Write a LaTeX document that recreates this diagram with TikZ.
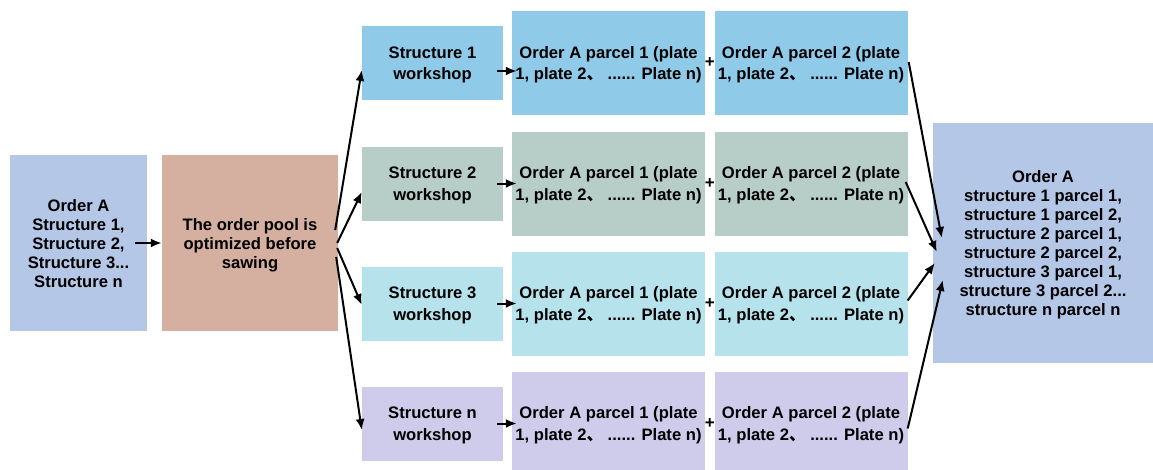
\documentclass[tikz,border=0pt]{standalone}
\usepackage{fontspec}
\setmainfont{Liberation Sans}
\newfontfamily\cjk{Noto Sans CJK SC}
\usetikzlibrary{arrows.meta,calc}

\definecolor{orderblue}{RGB}{180,199,231}
\definecolor{poolrose}{RGB}{213,175,160}
\definecolor{rowa}{RGB}{143,202,232}
\definecolor{rowb}{RGB}{183,205,199}
\definecolor{rowc}{RGB}{182,226,235}
\definecolor{rowd}{RGB}{207,203,235}

\begin{document}
\begin{tikzpicture}[x=1pt,y=-1pt,
  box/.style={rectangle, inner sep=0pt, align=center, draw=none, text depth=-2.5pt},
  tight/.style={font=\fontsize{16.6}{19}\selectfont\bfseries},
  loose/.style={font=\fontsize{16.6}{21.5}\selectfont\bfseries},
  wsbox/.style={box, loose, minimum width=141pt, minimum height=74pt},
  parcelbox/.style={box, loose, minimum width=193pt, minimum height=104pt},
  plus/.style={inner sep=0pt, font=\fontsize{17}{19}\selectfont\bfseries},
  flow/.style={-{Latex[length=11pt,width=9pt]}, line width=2pt}]
\useasboundingbox (0,0) rectangle (1153,469);

% order input and optimisation pool
\node[box, tight, fill=orderblue, minimum width=137pt, minimum height=176pt] (order) at (78.5,243)
  {Order A\\Structure 1,\\Structure 2,\\Structure 3...\\Structure n};
\node[box, tight, fill=poolrose, minimum width=176pt, minimum height=176pt] (pool) at (250,243)
  {The order pool is\\optimized before\\sawing};

% one row per structure workshop
\foreach \i/\y/\c in {1/63/rowa, 2/183.5/rowb, 3/303.5/rowc, n/423.5/rowd}{
  \node[wsbox, fill=\c] (ws\i) at (432.5,\y) {Structure \i\\workshop};
  \node[parcelbox, fill=\c] (pa\i) at (608.5,\y)
    {Order A parcel 1 (plate\\1, plate 2{\cjk 、} ...... Plate n)};
  \node[parcelbox, fill=\c] (pb\i) at (811,\y)
    {Order A parcel 2 (plate\\1, plate 2{\cjk 、} ...... Plate n)};
  \node[plus] (plus\i) at ($(pa\i.east)!0.5!(pb\i.west)$) {+};
}

% merged result
\node[box, tight, fill=orderblue, minimum width=220pt, minimum height=240pt, text depth=-9pt] (result) at (1043,243)
  {Order A\\structure 1 parcel 1,\\structure 1 parcel 2,\\structure 2 parcel 1,\\structure 2 parcel 2,\\structure 3 parcel 1,\\structure 3 parcel 2...\\structure n parcel n};

% connectors
\draw[flow] ([xshift=-12pt]order.east) -- (pool.west);

\draw[flow] ([shift={(-3pt,13pt)}]pool.east) -- ([yshift=-7pt]ws1.west);
\draw[flow] ([shift={(-1pt,0pt)}]pool.east) -- ([yshift=-8.5pt]ws2.west);
\draw[flow] ([shift={(-1pt,-5pt)}]pool.east) -- ([yshift=-1.5pt]ws3.west);
\draw[flow] ([shift={(-2pt,-14pt)}]pool.east) -- ([yshift=-6.5pt]wsn.west);

\draw[flow] ([shift={(-6pt,-8pt)}]ws1.east) -- ([shift={(5pt,-8pt)}]pa1.west);
\draw[flow] ([xshift=-6pt]ws2.east) -- ([xshift=5pt]pa2.west);
\draw[flow] ([xshift=-6pt]ws3.east) -- ([xshift=5pt]pa3.west);
\draw[flow] ([xshift=-6pt]wsn.east) -- ([xshift=5pt]pan.west);

\draw[flow] ([shift={(1pt,1pt)}]pb1.east) -- ([shift={(9pt,5pt)}]result.west);
\draw[flow] ([shift={(-2pt,1.5pt)}]pb2.east) -- ([shift={(4pt,-9pt)}]result.west);
\draw[flow] ([shift={(0pt,3pt)}]pb3.east) -- ([shift={(2pt,-20pt)}]result.west);
\draw[flow] ([shift={(0pt,-5pt)}]pbn.east) -- ([shift={(10pt,-37pt)}]result.west);
\end{tikzpicture}
\end{document}
